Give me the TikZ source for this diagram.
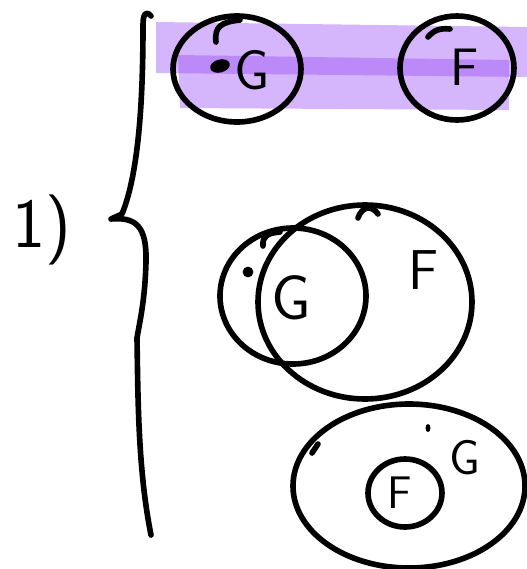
\documentclass[tikz,border=0pt]{standalone}
\usepackage{xcolor}
\usepackage{tikz}

\definecolor{marker}{RGB}{150,70,245}

\tikzset{
  pen/.style={line width=3.2pt, line cap=round, line join=round},
  letter/.style={font=\sffamily\fontsize{#1}{#1}\selectfont, inner sep=0pt}
}

\begin{document}
\begin{tikzpicture}[x=0.02cm, y=-0.02cm]

\useasboundingbox (0,0) rectangle (527,569);

% highlighter strokes
\fill[marker, opacity=0.4] (156,22) -- (527,27) -- (527,77) -- (156,73) -- cycle;
\fill[marker, opacity=0.4] (178,55) -- (509,60) -- (509,110) -- (180,108) -- cycle;

% brace
\draw[pen] (151,16) .. controls (146,10) and (143,14) .. (143,25)
  .. controls (143,90) and (140,170) .. (122,214) -- (111,219)
  .. controls (135,217) and (147,225) .. (146,262)
  .. controls (145,300) and (140,320) .. (137,338)
  .. controls (138,400) and (138,470) .. (151,535);

\node[letter=40] (part) at (42,230) {1)};

% top row
\draw[pen] (237,69) ellipse (64 and 53); % G
\draw[pen] (216,42) .. controls (214,26) and (222,22) .. (240,20);
\draw[pen] (457,68) ellipse (57 and 52); % F
\draw[pen] (428,37) .. controls (434,30) and (440,28) .. (450,29);
\fill[rotate around={15:(220,66)}] (220,66) ellipse (10 and 6.5);
\node[letter=32] (gTop) at (252,70) {G};
\node[letter=30] (fTop) at (465,67) {F};

% overlapping
\draw[pen] (293,296) ellipse (73 and 68); % G
\draw[pen] (263,246) .. controls (262,236) and (268,233) .. (280,232);
\draw[pen] (365,302) ellipse (107 and 97); % F
\draw[pen] (358,218) .. controls (362,206) and (372,205) .. (378,214);
\filldraw[line width=1.5pt, fill=black] (248,272) circle (4);
\node[letter=36] (gMid) at (291,298) {G};
\node[letter=32] (fMid) at (424,270) {F};

% nested
\draw[pen] (409,486) ellipse (116 and 82); % G
\draw[pen] (312,453) -- (318,444);
\draw[pen] (405,493) ellipse (37 and 34); % F
\fill (428,428) ellipse (2.5 and 4);
\node[letter=28] (gBot) at (465,458) {G};
\node[letter=26] (fBot) at (400,493) {F};

\end{tikzpicture}
\end{document}
